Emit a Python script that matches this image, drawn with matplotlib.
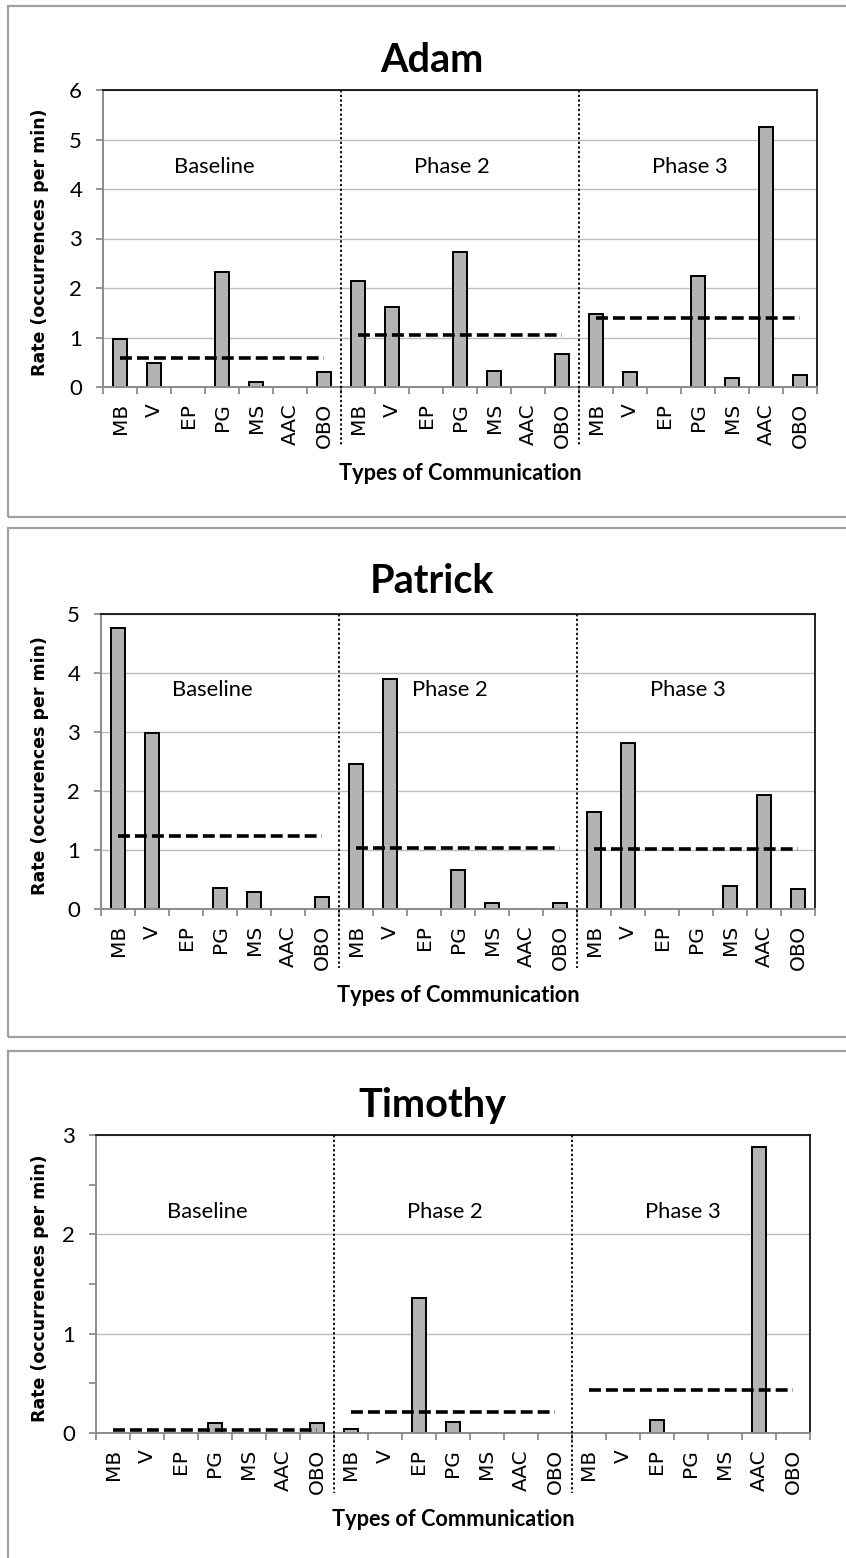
import matplotlib
matplotlib.use("Agg")
import matplotlib.pyplot as plt
import numpy as np
from matplotlib.patches import Rectangle

plt.rcParams["font.family"] = ["Lato", "DejaVu Sans"]

W, H = 846, 1558

types = ["MB", "V", "EP", "PG", "MS", "AAC", "OBO"]
phases = ["Baseline", "Phase 2", "Phase 3"]

adam_baseline = [0.96, 0.49, 0, 2.32, 0.11, 0, 0.30]
adam_phase2 = [2.15, 1.61, 0, 2.72, 0.32, 0, 0.66]
adam_phase3 = [1.47, 0.30, 0, 2.24, 0.18, 5.26, 0.24]
adam_means = [0.59, 1.06, 1.39]

patrick_baseline = [4.76, 2.98, 0, 0.36, 0.28, 0, 0.21]
patrick_phase2 = [2.45, 3.89, 0, 0.66, 0.11, 0, 0.11]
patrick_phase3 = [1.64, 2.82, 0, 0, 0.39, 1.93, 0.34]
patrick_means = [1.23, 1.03, 1.01]

timothy_baseline = [0, 0, 0, 0.10, 0, 0, 0.10]
timothy_phase2 = [0.04, 0, 1.36, 0.11, 0, 0, 0]
timothy_phase3 = [0, 0, 0.13, 0, 0, 2.88, 0]
timothy_means = [0.03, 0.21, 0.43]

# layout in pixels: frame box, axes box (left, top, right, bottom), title baseline
panels = [
    dict(name="Adam", data=[adam_baseline, adam_phase2, adam_phase3], means=adam_means,
         ylabel="Rate (occurrences per min)", ymax=6, minor=False,
         frame=(8, 6, 880, 517), axes=(103, 90, 817, 387), title_y=72),
    dict(name="Patrick", data=[patrick_baseline, patrick_phase2, patrick_phase3], means=patrick_means,
         ylabel="Rate (occurences per min)", ymax=5, minor=False,
         frame=(8, 528, 880, 1037), axes=(101, 614, 815, 909), title_y=593),
    dict(name="Timothy", data=[timothy_baseline, timothy_phase2, timothy_phase3], means=timothy_means,
         ylabel="Rate (occurrences per min)", ymax=3, minor=True,
         frame=(8, 1051, 880, 1600), axes=(96, 1135, 810, 1433), title_y=1117),
]

AXIS_GREY = "#8c8c8c"
fig = plt.figure(figsize=(W / 100, H / 100), dpi=100)

for p in panels:
    fx0, fy0, fx1, fy1 = p["frame"]
    fig.add_artist(Rectangle((fx0 / W, 1 - fy1 / H), (fx1 - fx0) / W, (fy1 - fy0) / H,
                             transform=fig.transFigure, fill=False,
                             edgecolor="#a0a0a0", lw=1.6))
    x0, y0, x1, y1 = p["axes"]
    ax = fig.add_axes([x0 / W, 1 - y1 / H, (x1 - x0) / W, (y1 - y0) / H])

    labels = types * len(phases)
    values = [v for ph in p["data"] for v in ph]
    xs = np.arange(len(values))
    ax.bar(xs, values, width=0.44, color="#b3b3b3", edgecolor="black",
           linewidth=[1.4 if v > 0 else 0 for v in values], zorder=2)

    n = len(types)
    for k, m in enumerate(p["means"]):
        ax.hlines(m, k * n, k * n + n - 1, colors="black", lw=2.6,
                  linestyles=(0, (3.3, 1.4)), zorder=3)
        ax.text(k * n + 2.76, 0.722, phases[k], transform=ax.get_xaxis_transform(),
                ha="center", va="baseline", fontsize=15.8)
    for k in range(1, len(phases)):
        ax.plot([k * n - 0.5] * 2, [1, -0.2], transform=ax.get_xaxis_transform(),
                color="black", lw=1.3, ls=(0, (1.3, 1.3)), clip_on=False, zorder=4)

    ax.set_xlim(-0.5, len(values) - 0.5)
    ax.set_ylim(0, p["ymax"])
    ax.set_xticks(xs)
    ax.set_xticklabels(labels, rotation=90, fontsize=14.5, family="DejaVu Sans")
    ax.set_xticks(np.arange(-0.5, len(values)), minor=True)
    ax.tick_params(axis="x", which="major", length=0, pad=11.5)
    ax.tick_params(axis="x", which="minor", length=5, width=1.3, color=AXIS_GREY)
    ax.set_yticks(range(p["ymax"] + 1))
    if p["minor"]:
        ax.set_yticks(np.arange(0.5, p["ymax"], 1), minor=True)
    ax.tick_params(axis="y", which="both", length=5, width=1.3, color=AXIS_GREY,
                   labelsize=16, pad=10)
    ax.yaxis.grid(True, which="major", color="#bdbdbd", lw=1.0)
    ax.set_axisbelow(True)
    for s in ("left", "bottom"):
        ax.spines[s].set_color(AXIS_GREY)
        ax.spines[s].set_linewidth(1.4)
    for s in ("top", "right"):
        ax.spines[s].set_color("black")
        ax.spines[s].set_linewidth(1.2)

    cx = (x0 + x1) / 2
    fig.text(432 / W, 1 - p["title_y"] / H, p["name"], ha="center", va="baseline",
             fontsize=28.5, fontweight="bold")
    fig.text(cx / W, 1 - (y1 + 93) / H, "Types of Communication", ha="center",
             va="baseline", fontsize=15.7, fontweight="bold")
    fig.text(40 / W, 1 - ((y0 + y1) / 2 + 4) / H, p["ylabel"], rotation=90, ha="center",
             va="center", fontsize=12.5, fontweight="bold", family="DejaVu Sans")

fig.savefig("out.png", dpi=100)
